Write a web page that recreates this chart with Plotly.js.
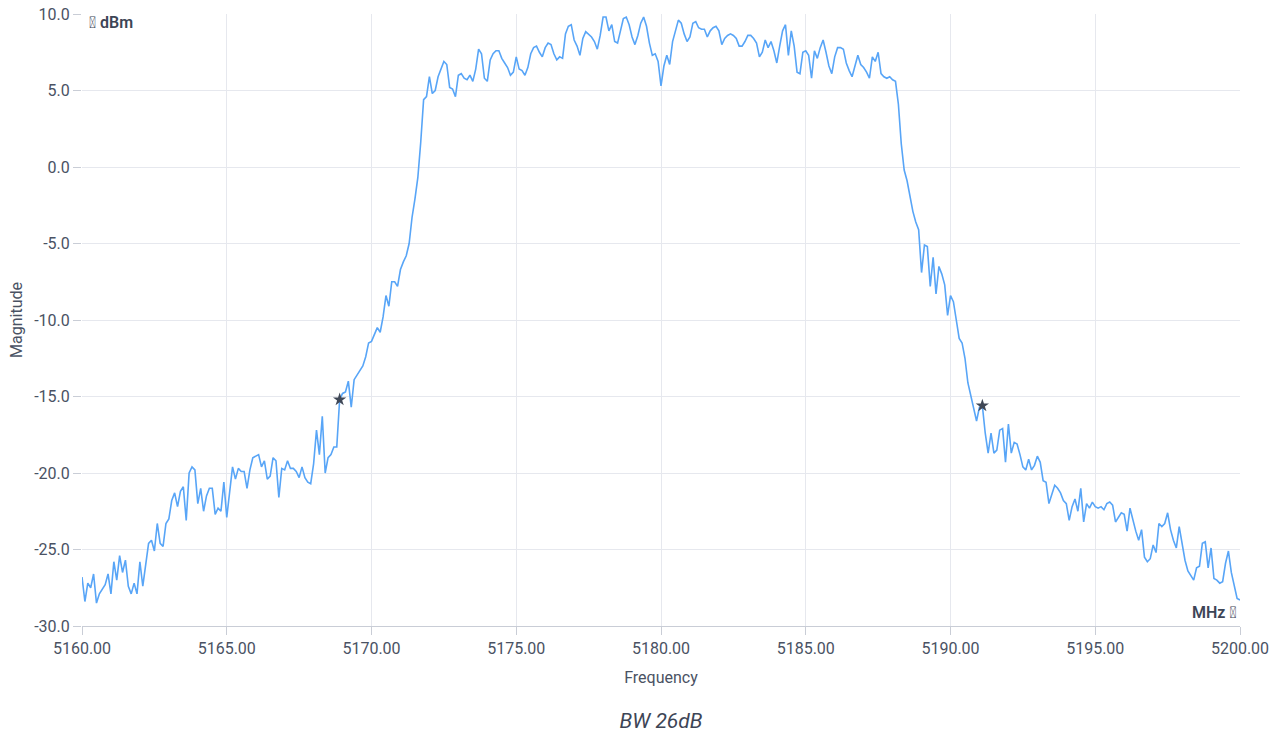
<!DOCTYPE html>
<html>
<head>
<meta charset="utf-8">
<script src="https://cdn.plot.ly/plotly-3.0.1.min.js"></script>
<style>
html,body{margin:0;padding:0;background:#fff;}
#chart{width:1281px;height:736px;}
</style>
</head>
<body>
<div id="chart"></div>
<script>
// Sweep: 5160.0 .. 5200.0 MHz, 0.1 MHz per point
const freqStart = 5160.0;
const freqStep = 0.1;
const magnitude = [
-26.8,-28.4,-27.2,-27.5,-26.6,-28.5,-27.9,-27.6,-27.3,-26.6,
-27.9,-25.8,-27.0,-25.4,-26.5,-25.7,-27.4,-27.9,-27.2,-27.9,
-25.8,-27.4,-26.1,-24.6,-24.4,-25.1,-23.3,-24.6,-24.8,-23.3,
-23.0,-21.8,-21.3,-22.2,-21.2,-20.9,-23.1,-20.0,-19.6,-19.8,
-22.0,-21.0,-22.5,-21.5,-21.0,-21.0,-22.7,-22.3,-22.5,-20.6,
-22.9,-21.0,-19.6,-20.4,-19.7,-19.9,-19.9,-21.0,-19.8,-19.0,
-18.9,-18.8,-19.6,-19.2,-20.4,-20.2,-19.0,-19.2,-21.6,-19.7,
-19.8,-19.2,-19.7,-19.7,-19.9,-20.3,-19.6,-20.3,-20.6,-20.7,
-19.4,-17.2,-18.8,-16.3,-20.0,-19.0,-18.8,-18.3,-18.3,-15.2,
-14.8,-14.7,-14.0,-15.7,-13.9,-13.6,-13.3,-13.0,-12.4,-11.5,
-11.4,-11.0,-10.5,-10.8,-9.8,-8.4,-9.1,-7.5,-7.5,-7.8,
-6.7,-6.2,-5.8,-5.0,-3.3,-2.1,-0.7,1.6,4.4,4.6,
5.9,4.8,5.0,5.9,6.4,6.9,6.7,5.2,5.1,4.6,
6.0,6.1,5.8,5.7,6.0,5.6,6.4,7.7,7.4,5.8,
5.6,7.0,7.4,7.6,7.6,7.1,6.8,6.5,6.0,6.2,
7.2,6.4,6.3,6.0,6.5,7.4,7.8,7.9,7.5,7.2,
7.8,8.1,8.0,7.4,7.0,7.2,7.1,8.7,9.2,9.3,
8.3,7.9,7.3,8.4,8.85,8.7,8.5,8.2,7.7,8.6,
9.8,9.8,8.9,9.3,8.2,8.1,9.0,9.7,9.8,9.3,
8.5,8.0,8.6,9.4,9.8,9.2,8.1,7.3,7.4,6.9,
5.3,6.6,7.3,6.7,8.2,9.0,9.6,9.4,8.7,8.2,
8.5,9.4,9.5,9.1,9.0,9.0,8.5,8.9,9.1,9.2,
8.9,8.0,8.4,8.6,8.7,8.6,8.4,7.9,7.9,8.2,
8.6,8.6,8.4,8.1,7.2,7.5,8.3,7.8,8.2,7.6,
6.8,7.9,8.9,9.3,7.3,8.9,7.9,6.2,6.1,7.5,
7.6,7.3,5.8,7.6,7.1,7.8,8.3,7.5,6.6,6.1,
7.2,7.8,7.8,7.7,6.8,6.3,5.9,6.6,7.3,6.7,
6.5,6.2,5.8,7.2,6.9,7.5,6.1,5.9,5.8,5.9,
5.7,5.6,4.1,1.5,-0.2,-0.9,-1.9,-2.9,-3.6,-4.1,
-6.9,-5.1,-5.2,-7.8,-5.9,-8.3,-6.5,-7.0,-7.7,-9.7,
-8.4,-8.8,-10.0,-11.2,-11.5,-12.5,-14.1,-14.9,-15.9,-16.6,
-15.7,-15.6,-17.4,-18.7,-17.4,-18.7,-18.5,-17.2,-17.1,-19.3,
-16.8,-18.7,-18.0,-18.1,-18.8,-19.6,-19.8,-19.1,-19.8,-19.5,
-18.9,-19.3,-20.5,-20.6,-22.0,-21.4,-20.8,-21.0,-21.3,-21.8,
-22.0,-23.1,-22.2,-21.7,-22.5,-21.0,-23.2,-22.0,-22.3,-21.9,
-22.2,-22.3,-22.2,-22.4,-22.0,-21.9,-22.1,-23.2,-22.9,-22.6,
-22.7,-23.8,-22.3,-23.1,-23.8,-24.4,-23.7,-25.5,-25.8,-25.6,
-24.7,-25.2,-23.3,-23.5,-23.3,-22.6,-23.7,-24.4,-24.9,-23.5,
-24.6,-25.7,-26.4,-26.7,-27.0,-26.2,-26.1,-24.6,-24.5,-26.2,
-24.9,-26.9,-27.0,-27.2,-27.1,-25.9,-25.1,-26.5,-27.4,-28.2,
-28.3
];
const frequency = magnitude.map((_, i) => +(freqStart + i * freqStep).toFixed(1));

// 26 dB bandwidth markers
const markerFreq = [5168.9, 5191.1];
const markerMag = [-15.2, -15.6];

const xTickVals = [5160, 5165, 5170, 5175, 5180, 5185, 5190, 5195, 5200];
const xTickText = ['5160.00','5165.00','5170.00','5175.00','5180.00','5185.00','5190.00','5195.00','5200.00'];
const yTickVals = [-30, -25, -20, -15, -10, -5, 0, 5, 10];
const yTickText = ['-30.0','-25.0','-20.0','-15.0','-10.0','-5.0','0.0','5.0','10.0'];

const font = 'Roboto, "Noto Sans", sans-serif';
const textColor = '#4a5263';
const gridColor = '#e6e8ee';

const traces = [
  {
    x: frequency, y: magnitude, type: 'scatter', mode: 'lines',
    line: {color: '#58a5f7', width: 1.6},
    hoverinfo: 'skip', showlegend: false
  },
  {
    x: markerFreq, y: markerMag, type: 'scatter', mode: 'markers',
    marker: {symbol: 'star', size: 10, color: '#3f4756'},
    showlegend: false
  }
];

const layout = {
  width: 1281, height: 736,
  margin: {l: 82, r: 41, t: 14, b: 110},
  paper_bgcolor: '#ffffff', plot_bgcolor: '#ffffff',
  font: {family: font, size: 16, color: textColor},
  showlegend: false,
  title: {
    text: '<i>BW 26dB</i>',
    font: {family: font, size: 21, color: '#3d4556'},
    x: 0.5, xanchor: 'center', xref: 'paper',
    y: 0.021, yanchor: 'middle', yref: 'container'
  },
  xaxis: {
    range: [5160, 5200],
    tickmode: 'array', tickvals: xTickVals, ticktext: xTickText,
    showgrid: true, gridcolor: gridColor, gridwidth: 1,
    zeroline: false,
    showline: true, linecolor: '#c9cdd6', linewidth: 1,
    ticks: 'outside', ticklen: 8, tickcolor: '#c9cdd6',
    tickfont: {family: font, size: 16, color: textColor},
    title: {text: 'Frequency', font: {family: font, size: 16, color: textColor}, standoff: 14}
  },
  yaxis: {
    range: [-30, 10],
    tickmode: 'array', tickvals: yTickVals, ticktext: yTickText,
    showgrid: true, gridcolor: gridColor, gridwidth: 1,
    zeroline: false,
    showline: false,
    ticks: 'outside', ticklen: 8, tickcolor: '#c9cdd6',
    tickfont: {family: font, size: 16, color: textColor},
    title: {text: 'Magnitude', font: {family: font, size: 16, color: textColor}, standoff: 7}
  },
  annotations: [
    {
      text: '\uE900 dBm', xref: 'paper', yref: 'paper', x: 0.004, y: 1.0,
      xanchor: 'left', yanchor: 'top', showarrow: false, yshift: 3,
      font: {family: font, size: 16, color: '#3d4556', weight: 600}
    },
    {
      text: 'MHz \uE900', xref: 'paper', yref: 'paper', x: 0.999, y: 0.004,
      xanchor: 'right', yanchor: 'bottom', showarrow: false,
      font: {family: font, size: 16, color: '#3d4556', weight: 600}
    }
  ]
};

Plotly.newPlot('chart', traces, layout, {displayModeBar: false, staticPlot: true});
</script>
</body>
</html>
